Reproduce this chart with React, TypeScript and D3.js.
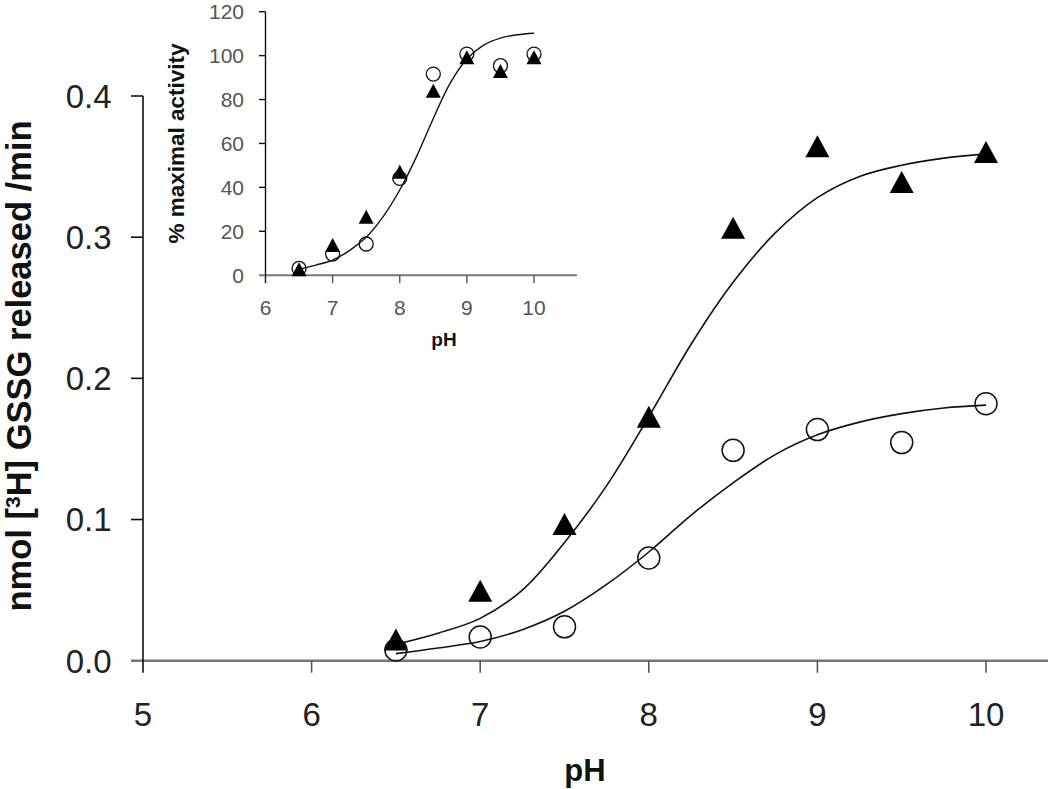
import React from "react";
import * as d3 from "d3";

// ---- Main chart data ----
const phValues = [6.5, 7, 7.5, 8, 8.5, 9, 9.5, 10];
const triangleValues = [0.015, 0.0496, 0.0968, 0.1728, 0.3066, 0.3644, 0.3391, 0.3604];
const circleValues = [0.0076, 0.0168, 0.024, 0.0727, 0.149, 0.1637, 0.1545, 0.182];

// fitted curves
const curvePh = [6.5, 6.75, 7, 7.25, 7.5, 7.75, 8, 8.25, 8.5, 8.75, 9, 9.25, 9.5, 9.75, 10];
const triangleCurve = [0.0116, 0.0195, 0.03, 0.05, 0.0837, 0.124, 0.1728, 0.224, 0.268, 0.303, 0.328, 0.343, 0.351, 0.356, 0.359];
const circleCurve = [0.005, 0.009, 0.0136, 0.022, 0.035, 0.054, 0.077, 0.103, 0.126, 0.146, 0.16, 0.169, 0.175, 0.179, 0.181];

const mainXTicks = [5, 6, 7, 8, 9, 10];
const mainYTicks = [0, 0.1, 0.2, 0.3, 0.4];

// ---- Inset data ----
const insetCircleValues = [3.1, 9.6, 14.2, 44.1, 91.6, 100.7, 95.4, 100.7];
const insetTriangleValues = [2.7, 13.7, 26.6, 47.1, 84, 99.2, 93, 99.2];
const insetCurve = [2.7, 4.6, 6.9, 11.2, 17.3, 26.6, 38.8, 54, 71.4, 87.4, 98.5, 104.8, 108.0, 109.5, 110.2];
const insetXTicks = [6, 7, 8, 9, 10];
const insetYTicks = [0, 20, 40, 60, 80, 100, 120];

const FONT = "'Liberation Sans', Arial, sans-serif";

function tri(cx: number, cy: number, w: number, h: number) {
  return `M${cx},${cy - h / 2}L${cx + w / 2},${cy + h / 2}L${cx - w / 2},${cy + h / 2}Z`;
}

export default function App() {
  // main scales
  const x = d3.scaleLinear().domain([5, 10]).range([143, 986]);
  const y = d3.scaleLinear().domain([0, 0.4]).range([660.7, 96]);
  // inset scales
  const ix = d3.scaleLinear().domain([6, 10]).range([265.5, 534]);
  const iy = d3.scaleLinear().domain([0, 120]).range([275.2, 11.7]);

  const mainLine = (vals: number[]) =>
    d3
      .line<number>()
      .x((_, i) => x(curvePh[i]))
      .y((v) => y(v))
      .curve(d3.curveCatmullRom.alpha(0.5))(vals) as string;
  const insetLine = d3
    .line<number>()
    .x((_, i) => ix(curvePh[i]))
    .y((v) => iy(v))
    .curve(d3.curveCatmullRom.alpha(0.5))(insetCurve) as string;

  const x0 = x(5);
  const y0 = y(0);
  const ix0 = ix(6);
  const iy0 = iy(0);

  return (
    <svg
      width={1050}
      height={789}
      style={{ position: "absolute", left: 0, top: 0, background: "#fff" }}
      fontFamily={FONT}
    >
      <rect x={0} y={0} width={1050} height={789} fill="#fff" />

      {/* ===== Main axes ===== */}
      <line x1={131} x2={1048} y1={y0} y2={y0} stroke="#777" strokeWidth={2.5} />
      <line x1={x0} x2={x0} y1={y(0.4)} y2={y0 + 12} stroke="#111" strokeWidth={1.6} />
      {mainYTicks.filter((t) => t > 0).map((t) => (
        <line key={"yt" + t} x1={131} x2={x0} y1={y(t)} y2={y(t)} stroke="#111" strokeWidth={1.6} />
      ))}
      {mainXTicks.filter((t) => t > 5).map((t) => (
        <line key={"xt" + t} x1={x(t)} x2={x(t)} y1={y0} y2={y0 + 12} stroke="#555" strokeWidth={1.6} />
      ))}
      {mainYTicks.map((t) => (
        <text key={"yl" + t} x={111.5} y={y(t) + 11.8} fontSize={33} fill="#222" textAnchor="end">
          {t.toFixed(1)}
        </text>
      ))}
      {mainXTicks.map((t) => (
        <text key={"xl" + t} x={x(t)} y={725.8} fontSize={33} fill="#222" textAnchor="middle">
          {t}
        </text>
      ))}
      <text x={585} y={781} fontSize={31} fontWeight="bold" textAnchor="middle" fill="#111">
        pH
      </text>
      <text
        transform="translate(31,366) rotate(-90)"
        fontSize={34.5}
        fontWeight="bold"
        textAnchor="middle"
        fill="#111"
      >
        nmol [<tspan fontSize={21} baselineShift="super">3</tspan>H] GSSG released /min
      </text>

      {/* ===== Main curves & markers ===== */}
      <path d={mainLine(triangleCurve)} fill="none" stroke="#111" strokeWidth={1.6} />
      <path d={mainLine(circleCurve)} fill="none" stroke="#111" strokeWidth={1.6} />
      {phValues.map((p, i) => (
        <path key={"mt" + i} d={tri(x(p), y(triangleValues[i]), 24, 22)} fill="#000" />
      ))}
      {phValues.map((p, i) => (
        <circle key={"mc" + i} cx={x(p)} cy={y(circleValues[i])} r={11} fill="none" stroke="#111" strokeWidth={1.5} />
      ))}

      {/* ===== Inset axes ===== */}
      <line x1={259} x2={577} y1={iy0} y2={iy0} stroke="#777" strokeWidth={2} />
      <line x1={ix0} x2={ix0} y1={iy(120)} y2={iy0 + 8} stroke="#111" strokeWidth={1.4} />
      {insetYTicks.filter((t) => t > 0).map((t) => (
        <line key={"iyt" + t} x1={259} x2={ix0} y1={iy(t)} y2={iy(t)} stroke="#111" strokeWidth={1.4} />
      ))}
      {insetXTicks.filter((t) => t > 6).map((t) => (
        <line key={"ixt" + t} x1={ix(t)} x2={ix(t)} y1={iy0} y2={iy0 + 8} stroke="#555" strokeWidth={1.4} />
      ))}
      {insetYTicks.map((t) => (
        <text key={"iyl" + t} x={244} y={iy(t) + 7.5} fontSize={21} fill="#555" textAnchor="end">
          {t}
        </text>
      ))}
      {insetXTicks.map((t) => (
        <text key={"ixl" + t} x={ix(t)} y={315} fontSize={21} fill="#555" textAnchor="middle">
          {t}
        </text>
      ))}
      <text x={444} y={346} fontSize={19} fontWeight="bold" textAnchor="middle" fill="#111">
        pH
      </text>
      <text
        transform="translate(184,143.5) rotate(-90)"
        fontSize={22.5}
        fontWeight="bold"
        textAnchor="middle"
        fill="#111"
      >
        % maximal activity
      </text>

      {/* ===== Inset curve & markers ===== */}
      <path d={insetLine} fill="none" stroke="#111" strokeWidth={1.4} />
      {phValues.map((p, i) => (
        <circle key={"ic" + i} cx={ix(p)} cy={iy(insetCircleValues[i])} r={7} fill="none" stroke="#111" strokeWidth={1.3} />
      ))}
      {phValues.map((p, i) => (
        <path key={"it" + i} d={tri(ix(p), iy(insetTriangleValues[i]), 15, 14)} fill="#000" />
      ))}
    </svg>
  );
}
